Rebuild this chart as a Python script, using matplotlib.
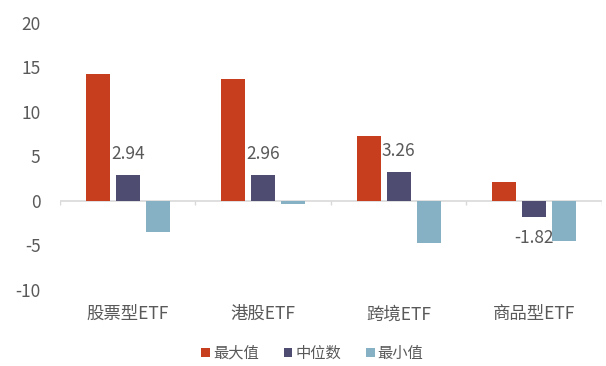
import matplotlib
matplotlib.use("Agg")
import matplotlib.pyplot as plt
import numpy as np
from matplotlib.patches import Patch

plt.rcParams['font.family'] = ['Noto Sans CJK SC', 'DejaVu Sans']

categories = ['股票型ETF', '港股ETF', '跨境ETF', '商品型ETF']
series_names = ['最大值', '中位数', '最小值']
max_vals = [14.2, 13.7, 7.3, 2.1]
median_vals = [2.94, 2.96, 3.26, -1.82]
min_vals = [-3.45, -0.3, -4.75, -4.55]
yticks = [-10, -5, 0, 5, 10, 15, 20]

colors = ['#C63E1E', '#4F4C72', '#86B0C4']
text_color = '#595959'

fig = plt.figure(figsize=(6.06, 3.66), dpi=100)
ax = fig.add_axes([0.099, 0.2077, 0.894, 0.730])

x = np.arange(len(categories))
w = 0.177
step = 0.221
all_series = [max_vals, median_vals, min_vals]
for i, (vals, c) in enumerate(zip(all_series, colors)):
    ax.bar(x + (i - 1) * step, vals, width=w, color=c, zorder=3)

for xi, v in zip(x, median_vals):
    off = 15 if v >= 0 else -15
    ax.annotate(f'{v:.2f}', (xi, v), xytext=(0, off), textcoords='offset points',
                ha='center', va='center', fontsize=12.5, color=text_color, zorder=4)

ax.set_xlim(-0.5, len(categories) - 0.5)
ax.set_ylim(-10, 20)
ax.set_yticks(yticks)
ax.set_yticklabels([str(t) for t in yticks])
ax.axhline(0, color='#D9D9D9', lw=1.2, zorder=2)
bounds = np.arange(len(categories) + 1) - 0.5
ax.vlines(bounds, -0.45, 0, color='#D9D9D9', lw=1.0, zorder=2)

ax.set_xticks(x)
ax.set_xticklabels(categories)
ax.tick_params(axis='x', length=0, pad=11, labelsize=12.5, labelcolor=text_color)
ax.tick_params(axis='y', length=0, pad=14, labelsize=12.5, labelcolor=text_color)
for s in ax.spines.values():
    s.set_visible(False)

handles = [Patch(facecolor=c, edgecolor='none') for c in colors]
fig.legend(handles, series_names, loc='center', bbox_to_anchor=(0.5155, 0.035),
           ncol=3, frameon=False, fontsize=11, handlelength=0.55, handleheight=0.55,
           handletextpad=0.2, columnspacing=1.65, labelcolor=text_color)

fig.savefig('out.png', dpi=100)
